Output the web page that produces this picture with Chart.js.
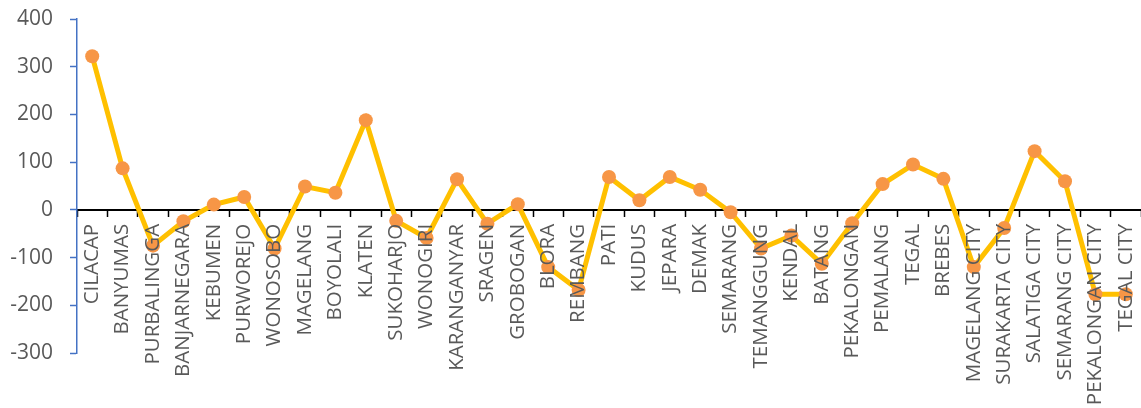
<!DOCTYPE html>
<html>
<head>
<meta charset="utf-8">
<script src="https://cdn.jsdelivr.net/npm/chart.js@4.4.1/dist/chart.umd.min.js"></script>
<style>
  html, body { margin: 0; padding: 0; background: #fff; }
  #wrap { width: 1141px; height: 408px; position: relative; }
</style>
</head>
<body>
<div id="wrap"><canvas id="chart"></canvas></div>
<script>
// regencies / cities along the category axis
const regions = [
  'CILACAP', 'BANYUMAS', 'PURBALINGGA', 'BANJARNEGARA', 'KEBUMEN', 'PURWOREJO',
  'WONOSOBO', 'MAGELANG', 'BOYOLALI', 'KLATEN', 'SUKOHARJO', 'WONOGIRI',
  'KARANGANYAR', 'SRAGEN', 'GROBOGAN', 'BLORA', 'REMBANG', 'PATI', 'KUDUS',
  'JEPARA', 'DEMAK', 'SEMARANG', 'TEMANGGUNG', 'KENDAL', 'BATANG',
  'PEKALONGAN', 'PEMALANG', 'TEGAL', 'BREBES', 'MAGELANG CITY',
  'SURAKARTA CITY', 'SALATIGA CITY', 'SEMARANG CITY', 'PEKALONGAN CITY', 'TEGAL CITY'
];

const values = [
  322, 87, -75, -24, 11, 27,
  -81, 49, 36, 188, -23, -59,
  64, -29, 12, -120, -168, 69, 20,
  69, 42, -5, -81, -54, -113,
  -28, 54, 95, 65, -120,
  -38, 123, 60, -177, -177
];

const yTicks = [-300, -200, -100, 0, 100, 200, 300, 400];

const labelGrey = '#595959';

// drop the automatic edge padding so the plot fills the canvas
function noEdgePadding(scale) {
  scale.paddingTop = 0;
  scale.paddingBottom = 0;
  scale.paddingLeft = 0;
  scale.paddingRight = 0;
}

new Chart(document.getElementById('chart'), {
  type: 'line',
  data: {
    labels: regions,
    datasets: [{
      data: values,
      borderColor: '#FFC000',
      borderWidth: 5,
      tension: 0,
      pointRadius: 7,
      pointHoverRadius: 7,
      pointBorderWidth: 0,
      pointBackgroundColor: '#F79646',
      pointBorderColor: '#F79646',
      clip: false
    }]
  },
  options: {
    responsive: true,
    maintainAspectRatio: false,
    animation: false,
    layout: {
      autoPadding: false,
      padding: { top: 19, bottom: 55, left: 0, right: 0 }
    },
    plugins: { legend: { display: false }, tooltip: { enabled: false } },
    scales: {
      x: {
        type: 'category',
        position: { y: 0 },
        offset: true,
        afterFit: noEdgePadding,
        grid: {
          offset: true,
          drawOnChartArea: false,
          drawTicks: true,
          tickLength: 6,
          tickColor: '#000',
          tickWidth: 1.5
        },
        border: { color: '#000', width: 2 },
        ticks: {
          z: 1,
          autoSkip: false,
          maxRotation: 90,
          minRotation: 90,
          padding: 8,
          color: labelGrey,
          font: { family: '"Open Sans", sans-serif', size: 20.5 }
        }
      },
      y: {
        min: -300,
        max: 400,
        afterBuildTicks: (scale) => {
          scale.ticks = yTicks.map(v => ({ value: v }));
        },
        afterFit: (scale) => {
          scale.width = 77;
          noEdgePadding(scale);
        },
        grid: {
          drawOnChartArea: false,
          drawTicks: true,
          tickLength: 7,
          tickColor: '#4472C4',
          tickWidth: 1.5
        },
        border: { color: '#4472C4', width: 1.5 },
        ticks: {
          padding: 17,
          color: labelGrey,
          font: { family: '"Open Sans", sans-serif', size: 21 }
        }
      }
    }
  }
});
</script>
</body>
</html>
